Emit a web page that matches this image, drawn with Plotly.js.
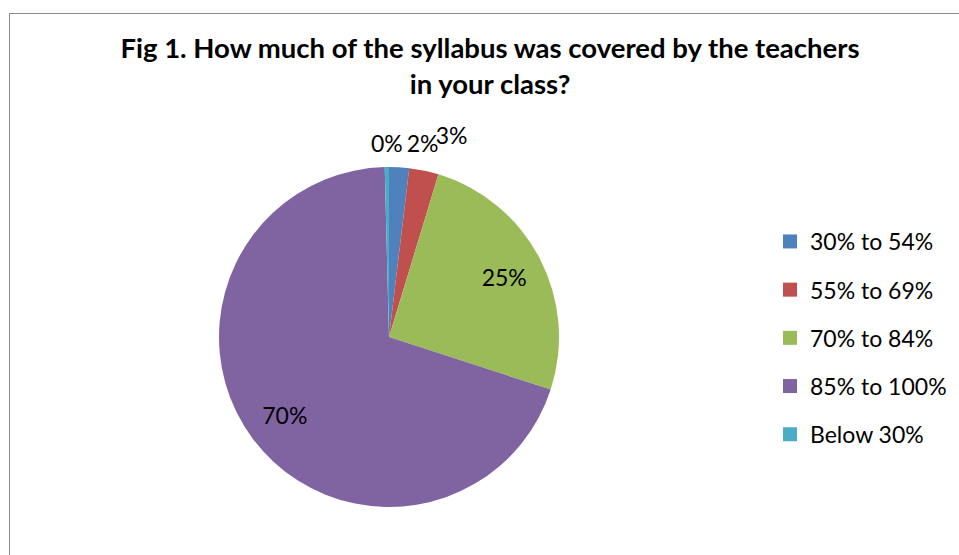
<!DOCTYPE html>
<html>
<head>
<meta charset="utf-8">
<script src="https://cdn.plot.ly/plotly-3.0.1.min.js"></script>
<style>
  html, body { margin: 0; padding: 0; width: 959px; height: 555px; overflow: hidden; background: #fff; }
  #frame { position: absolute; left: 9px; top: 13px; width: 1000px; height: 600px; border: 1.5px solid #8c8c8c; box-sizing: border-box; }
  #chart { position: absolute; left: 0; top: 0; width: 959px; height: 555px; }
</style>
</head>
<body>
<div id="frame"></div>
<div id="chart"></div>
<script>
// Categories (legend / data order)
const categories = ["30% to 54%", "55% to 69%", "70% to 84%", "85% to 100%", "Below 30%"];
// Share of respondents (percent)
const shares = [1.9, 2.8, 25.3, 69.6, 0.4];
// Slice colours
const colors = ["#4F81BD", "#C0504D", "#9BBB59", "#8064A2", "#4BACC6"];

const titleText = "Fig 1. How much of the syllabus was covered by the teachers<br>in your class?";
const fontFam = "Lato, 'Open Sans', sans-serif";
const W = 959, H = 555;

// pie geometry (layout only): centre and radius in pixels
const CX = 389, CY = 337;
function dom(r, dx) {
  const cx = CX + (dx || 0);
  return { x: [(cx - r) / W, (cx + r) / W], y: [(H - CY - r) / H, (H - CY + r) / H] };
}
const clear = categories.map(() => "rgba(0,0,0,0)");
const lblFont = { family: fontFam, size: 23, color: "#000" };

function labelLayer(positions, r, dx, hole) {
  return {
    type: "pie", labels: categories, values: shares,
    sort: false, direction: "clockwise", rotation: 0, hole: hole || 0,
    marker: { colors: clear, line: { width: 0 } },
    texttemplate: "%{percent:.0%}",
    textposition: positions,
    insidetextorientation: "horizontal",
    textfont: lblFont, outsidetextfont: lblFont, insidetextfont: lblFont,
    showlegend: false, hoverinfo: "skip",
    domain: dom(r, dx)
  };
}

const base = {
  type: "pie", labels: categories, values: shares,
  sort: false, direction: "clockwise", rotation: 0,
  marker: { colors: colors, line: { width: 0 } },
  textinfo: "none", showlegend: false, hoverinfo: "skip",
  domain: dom(170)
};

const traces = [
  base,
  // large slices (inside) + first small slice (outside)
  labelLayer(["outside", "none", "inside", "inside", "none"], 180, 0, 0.444),
  // second small slice, set a little higher as in the original
  labelLayer(["none", "outside", "none", "none", "none"], 193, 0),
  // last (tiny) slice, centred over the top of the pie as in the original
  labelLayer(["none", "none", "none", "none", "outside"], 180, 23)
];

categories.forEach((c, i) => {
  traces.push({
    type: "scatter",
    x: [null], y: [null],
    mode: "markers",
    name: c,
    legendgroup: "g" + i,
    marker: { symbol: "square", size: 14, color: colors[i] },
    showlegend: true,
    hoverinfo: "skip"
  });
});

const layout = {
  width: W, height: H,
  margin: { l: 0, r: 0, t: 0, b: 0 },
  paper_bgcolor: "rgba(0,0,0,0)",
  plot_bgcolor: "rgba(0,0,0,0)",
  title: {
    text: titleText,
    font: { family: fontFam, size: 27.5, color: "#000", weight: "bold" },
    x: 490 / W, xanchor: "center",
    y: 1 - 58 / H, yanchor: "top"
  },
  xaxis: { visible: false },
  yaxis: { visible: false },
  showlegend: true,
  legend: {
    x: 770 / W, xanchor: "left",
    y: 1 - 220 / H, yanchor: "top",
    font: { family: fontFam, size: 23, color: "#000" },
    tracegroupgap: 15.3,
    traceorder: "grouped",
    bgcolor: "rgba(0,0,0,0)"
  }
};

Plotly.newPlot("chart", traces, layout, { displayModeBar: false, staticPlot: true });
</script>
</body>
</html>
